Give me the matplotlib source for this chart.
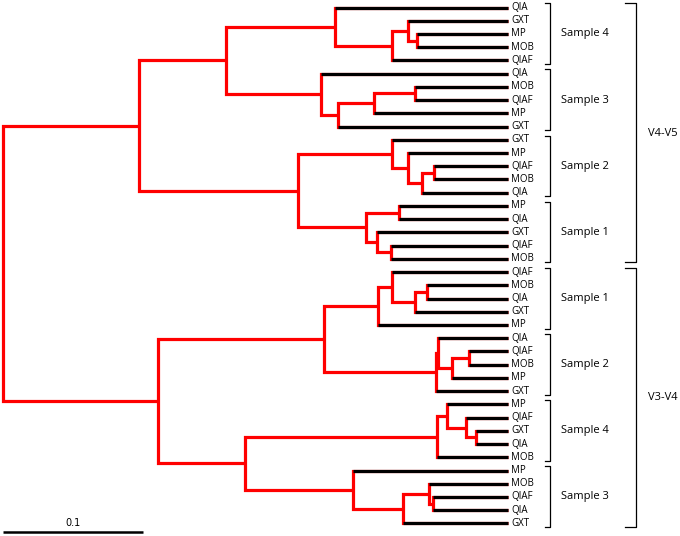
import matplotlib
matplotlib.use("Agg")
import matplotlib.pyplot as plt

plt.rcParams["font.family"] = ["Open Sans", "DejaVu Sans"]

# leaf labels, top to bottom (display order)
LEAF_LABELS = [
    "QIA", "GXT", "MP", "MOB", "QIAF",
    "QIA", "MOB", "QIAF", "MP", "GXT",
    "GXT", "MP", "QIAF", "MOB", "QIA",
    "MP", "QIA", "GXT", "QIAF", "MOB",
    "QIAF", "MOB", "QIA", "GXT", "MP",
    "QIA", "QIAF", "MOB", "MP", "GXT",
    "MP", "QIAF", "GXT", "QIA", "MOB",
    "MP", "MOB", "QIAF", "QIA", "GXT",
]
LEAF_DEPTH = 0.361

# merges (linkage style): leaves are 0..39, merge k creates node 40+k
MERGE_LEFT = [2, 1, 41, 0, 6, 44, 45, 5, 43, 12, 49, 11, 10, 15, 18, 17, 53, 52, 48,
              21, 59, 20, 61, 26, 63, 25, 65, 62, 32, 31, 30, 70, 37, 36, 73, 35, 71, 67, 58]
MERGE_RIGHT = [3, 40, 4, 42, 7, 8, 9, 46, 47, 13, 14, 50, 51, 16, 19, 54, 55, 56, 57,
               22, 23, 60, 24, 27, 28, 64, 29, 66, 33, 68, 69, 34, 38, 72, 39, 74, 75, 76, 77]
MERGE_DEPTH = [0.296, 0.289, 0.278, 0.237, 0.294, 0.265, 0.239, 0.227, 0.159, 0.308,
               0.299, 0.289, 0.278, 0.283, 0.277, 0.267, 0.259, 0.211, 0.097,
               0.303, 0.294, 0.278, 0.268, 0.333, 0.321, 0.311, 0.309, 0.229,
               0.338, 0.331, 0.317, 0.310, 0.307, 0.304, 0.286, 0.250, 0.173, 0.111, 0.0]

SAMPLE_GROUPS = ["Sample 4", "Sample 3", "Sample 2", "Sample 1",
                 "Sample 1", "Sample 2", "Sample 4", "Sample 3"]
REGION_GROUPS = ["V4-V5", "V3-V4"]
SCALE_LENGTH = 0.1

RED = "#FF0000"
LW = 2.3

fig = plt.figure(figsize=(6.8, 5.36), dpi=100)
ax = fig.add_axes([0, 0, 1, 1])
ax.set_xlim(-0.0021, 0.4836)
ax.set_ylim(39.95, -0.567)
ax.axis("off")

n = len(LEAF_LABELS)
xpos = {i: LEAF_DEPTH for i in range(n)}
ypos = {i: float(i) for i in range(n)}
for k, (a, b, d) in enumerate(zip(MERGE_LEFT, MERGE_RIGHT, MERGE_DEPTH)):
    node = n + k
    xpos[node] = d
    ypos[node] = (ypos[a] + ypos[b]) / 2
    ax.plot([xpos[a], d, d, xpos[b]], [ypos[a], ypos[a], ypos[b], ypos[b]],
            color=RED, lw=LW, solid_joinstyle="miter", solid_capstyle="butt", zorder=2)
    for c in (a, b):
        if c < n:
            ax.plot([d, xpos[c]], [ypos[c], ypos[c]], color="black", lw=LW,
                    solid_capstyle="butt", zorder=3)

for i, lab in enumerate(LEAF_LABELS):
    ax.text(LEAF_DEPTH + 0.0022, i, lab, fontsize=7, va="center", ha="left")


def bracket(x, x_hook, y0, y1):
    ax.plot([x_hook, x, x, x_hook], [y0, y0, y1, y1], color="black", lw=0.9,
            solid_joinstyle="round")


for g, name in enumerate(SAMPLE_GROUPS):
    first, last = g * 5, g * 5 + 4
    bracket(0.3907, 0.3871, first - 0.32, last + 0.27)
    ax.text(0.4157, (first + last) / 2, name, fontsize=8, va="center", ha="center")

for g, name in enumerate(REGION_GROUPS):
    first, last = g * 20, g * 20 + 19
    bracket(0.4521, 0.4443, first - 0.32, last + 0.27)
    ax.text(0.4714, (first + last) / 2, name, fontsize=8, va="center", ha="center")

# scale bar
ax.plot([0, SCALE_LENGTH], [39.65, 39.65], color="black", lw=1.8, solid_capstyle="butt")
ax.text(SCALE_LENGTH / 2, 38.95, f"{SCALE_LENGTH:g}", fontsize=7, ha="center",
        va="center", family="DejaVu Sans")

fig.savefig("out.png", dpi=100)
